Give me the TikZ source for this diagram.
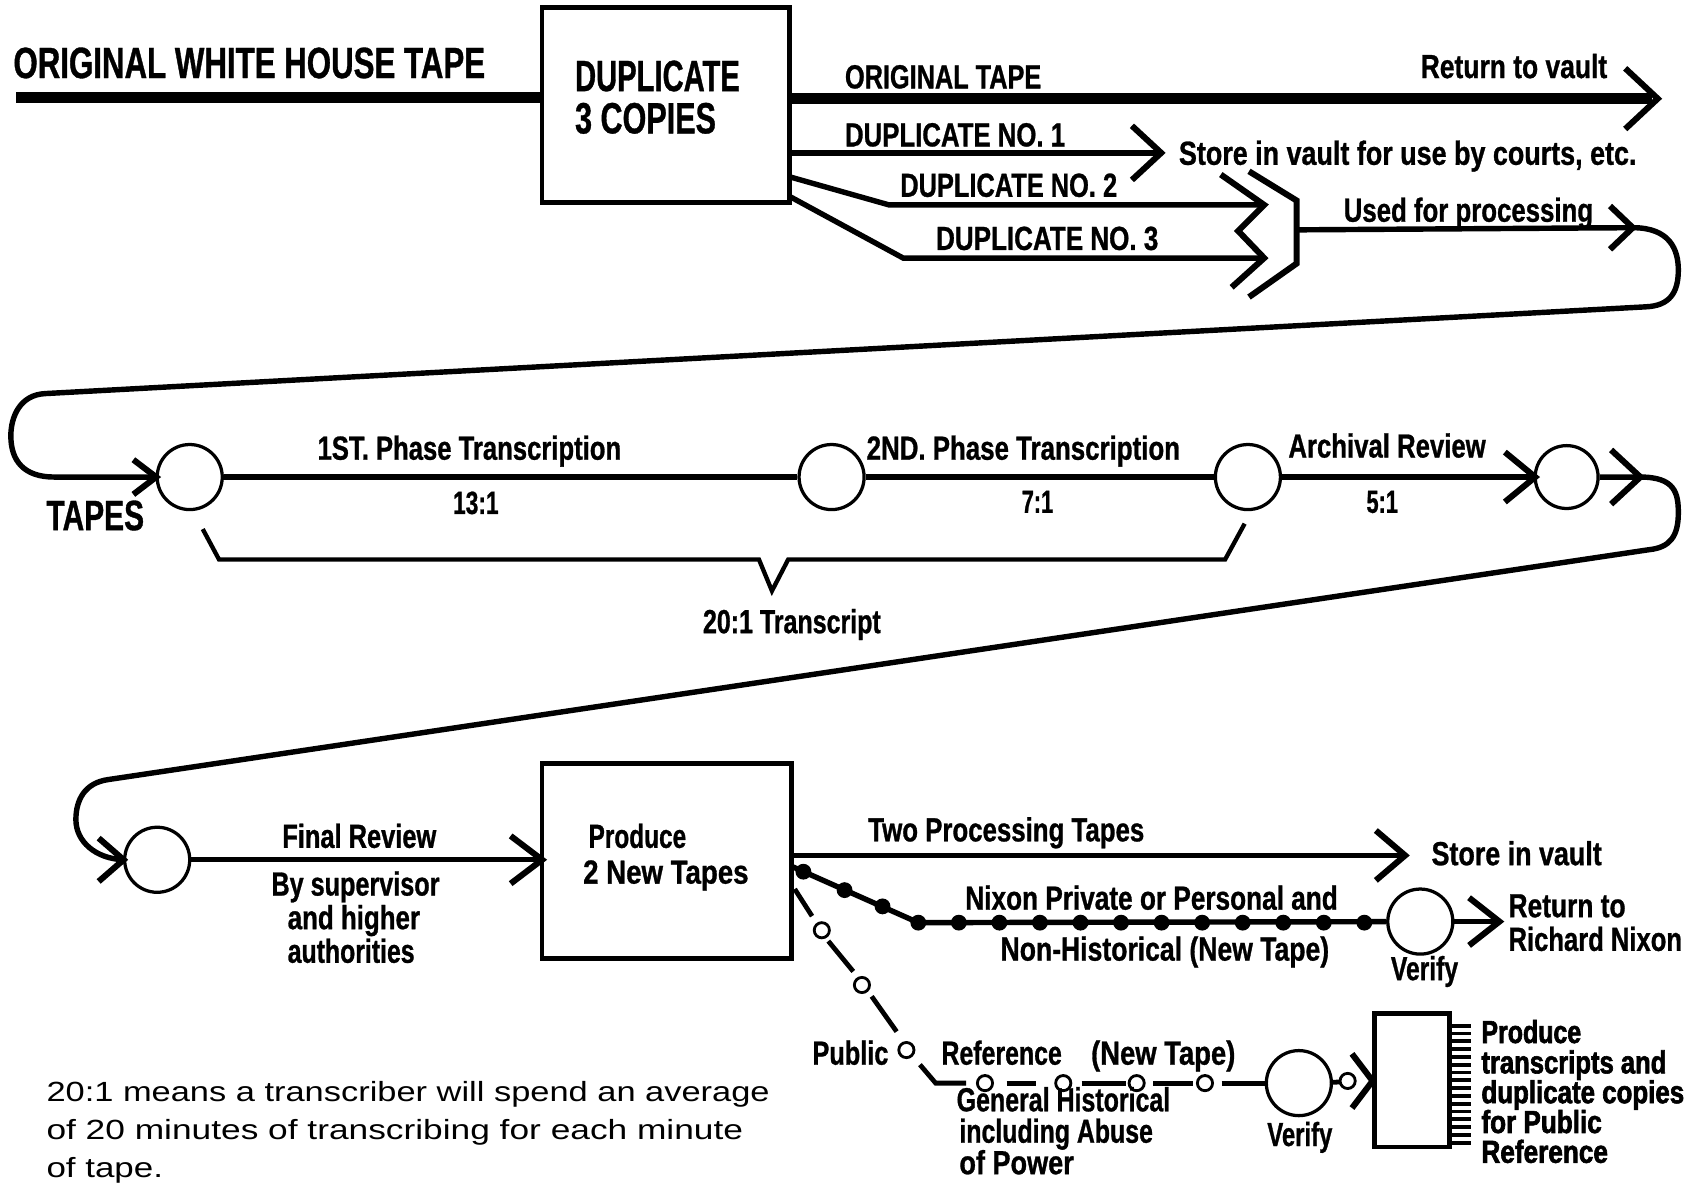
\documentclass[tikz,border=0pt]{standalone}
\usepackage{fontspec}
\usepackage{graphicx}
\setmainfont{Liberation Sans}
\newfontfamily\lab[FakeStretch=0.72,FakeBold=0.8]{Liberation Sans}
\newfontfamily\hvy[FakeStretch=0.72,FakeBold=1.8]{Liberation Sans}
\newfontfamily\nrm{Liberation Sans}
\newdimen\pxu \pxu=0.5pt
\newcommand\tx[2]{\resizebox{#1\pxu}{\height}{#2}}
\tikzset{
  flow/.style={line width=2.5pt, line cap=butt, line join=miter},
  fat/.style={line width=5pt, line cap=butt},
  pline/.style={line width=2.2pt, line cap=butt, line join=miter},
  chevline/.style={line width=2.8pt, line join=miter, miter limit=10, line cap=butt},
  ring/.style={circle, draw, line width=1.5pt, minimum size=30pt, inner sep=0pt},
  oring/.style={line width=1.3pt, fill=white},
  boxs/.style={draw, line width=2.2pt, inner sep=0pt},
  lbl/.style={anchor=base west, inner sep=0pt, font=\lab\bfseries\fontsize{15.4pt}{18pt}\selectfont},
  lblb/.style={lbl, font=\lab\bfseries\fontsize{20.2pt}{24pt}\selectfont},
  lbls/.style={lbl, font=\lab\bfseries\fontsize{14.8pt}{17pt}\selectfont},
  lblh/.style={lbl, font=\hvy\bfseries\fontsize{14.7pt}{17pt}\selectfont},
  note/.style={lbl, font=\nrm\fontsize{12.8pt}{15pt}\selectfont},
  pics/chevr/.style args={#1/#2}{code={\draw[chevline] (-#1,-#2) -- (0,0) -- (-#1,#2);}}
}
\begin{document}
\begin{tikzpicture}[x=0.5pt,y=-0.5pt]
\fill[white] (0,0) rectangle (1568,1093);
\useasboundingbox (0,0) rectangle (1568,1093);

% ---------- top row ----------
\node[boxs, minimum width=114pt, minimum height=90pt] (dup) at (614,97) {};
\node[lblb] (tOWH) at (12,72) {\tx{435}{ORIGINAL WHITE HOUSE TAPE}};
\node[lblb] (tDup) at (530,84) {\tx{152}{DUPLICATE}};
\node[lblb] (tCop) at (530,123) {\tx{130}{3 COPIES}};

\coordinate (a0) at (15,90);
\draw[fat] (a0) -- (a0 -| dup.west);
\coordinate (tO) at (1529,91);
\coordinate (eO) at (1524,91);
\draw[fat] (dup.east |- eO) -- (eO);
\pic at (tO) {chevr={30/28}};
\node[lbl] (tOT) at (779,81.5) {\tx{181}{ORIGINAL TAPE}};
\node[lbl] (tRV) at (1310,72) {\tx{172}{Return to vault}};

\coordinate (t1a) at (1071,141);
\draw[flow] (dup.east |- t1a) -- (t1a);
\pic at (t1a) {chevr={27/25}};
\node[lbl] (tD1) at (779,135) {\tx{203}{DUPLICATE NO. 1}};
\node[lbl] (tSV) at (1087,152) {\tx{422}{Store in vault for use by courts, etc.}};

\coordinate (s2) at (728,163);
\coordinate (s3) at (728,181);
\coordinate (t2a) at (1166,189);
\coordinate (t3a) at (1166,238);
\draw[flow] (s2) -- (820,189) -- (t2a);
\draw[flow] (s3) -- (833,238) -- (t3a);
\draw[chevline] (1126,161) -- (t2a) -- (1142,213) -- (t3a) -- (1136,265);
\coordinate (br) at (1196,212);
\draw[chevline] (1152,158) -- (1196,185) -- (1196,243) -- (1152,274);
\node[lbl] (tD2) at (830,181.5) {\tx{200}{DUPLICATE NO. 2}};
\node[lbl] (tD3) at (863,230.5) {\tx{205}{DUPLICATE NO. 3}};
\node[lbl] (tUP) at (1239,204.5) {\tx{230}{Used for processing}};

% ---------- middle row ----------
\node[ring] (c1) at (175,440) {};
\node[ring] (c2) at (767,440) {};
\node[ring] (c3) at (1151,440) {};
\node[ring, minimum size=29pt] (c4) at (1445,440) {};
\coordinate (tP) at (1506,210);
\coordinate (t1) at (144,440);
\draw[flow] (br) -- (tP) .. controls (1540,210) and (1548,230) .. (1548,249)
  .. controls (1548,270) and (1540,282) .. (1518,283) -- (42,363)
  .. controls (18,364) and (10,385) .. (10,402)
  .. controls (10,425) and (22,440) .. (50,440) -- (t1);
\pic at (tP) {chevr={21/20}};
\pic at (t1) {chevr={21/16}};
\draw[flow] (c1) -- (c2);
\draw[flow] (c2) -- (c3);
\coordinate (t4) at (1416,440);
\draw[flow] (c3) -- (t4);
\pic at (t4) {chevr={28/23}};
\coordinate (t5) at (1513,440);
\coordinate (t6) at (114,793);
\draw[flow] (c4) -- (t5) .. controls (1545,440) and (1548,455) .. (1548,473)
  .. controls (1548,495) and (1540,505) .. (1521,507) -- (100,719)
  .. controls (78,722) and (70,738) .. (70,756)
  .. controls (70,776) and (88,792) .. (t6);
\pic at (t5) {chevr={27/25}};
\node[lblb, font=\lab\bfseries\fontsize{19.6pt}{24pt}\selectfont] (tTP) at (42.5,489) {\tx{90}{TAPES}};
\node[lbl] (tPh1) at (292.5,424) {\tx{280}{1ST. Phase Transcription}};
\node[lbl] (tPh2) at (799,424) {\tx{289}{2ND. Phase Transcription}};
\node[lbl] (tAR) at (1188,422) {\tx{182}{Archival Review}};
\node[lbls] (r13) at (417.5,474) {\tx{42}{13:1}};
\node[lbls] (r7) at (942,473) {\tx{29}{7:1}};
\node[lbls] (r5) at (1260,473) {\tx{29}{5:1}};
\draw[line width=2pt, line join=miter] (187,488) -- (202,516) -- (700,516) -- (712,545)
  -- (727,516) -- (1130,516) -- (1148,483);
\node[lbl] (t201) at (648,584) {\tx{164}{20:1 Transcript}};

% ---------- bottom row ----------
\node[ring] (c5) at (145,793) {};
\node[boxs, minimum width=115pt, minimum height=90pt] (prod) at (615,794) {};
\pic at (t6) {chevr={23/20}};
\coordinate (t7) at (500,793);
\draw[flow] (c5) -- (t7);
\pic at (t7) {chevr={29/22}};
\node[lbl] (tFR) at (260,782) {\tx{142}{Final Review}};
\node[lbl] (tBy) at (250,826) {\tx{155}{By supervisor}};
\node[lbl] (tAH) at (265,857) {\tx{122}{and higher}};
\node[lbl] (tAu) at (265,888) {\tx{117}{authorities}};
\node[lbl] (tPr) at (542.5,782) {\tx{90}{Produce}};
\node[lbl] (tNT) at (537.5,815) {\tx{152.5}{2 New Tapes}};

\coordinate (t8) at (1296,789);
\draw[flow] (prod.east |- t8) -- (t8);
\pic at (t8) {chevr={27/23}};
\node[lbl] (tTw) at (800.5,776) {\tx{254.5}{Two Processing Tapes}};
\node[lbl] (tSt) at (1320,798) {\tx{157}{Store in vault}};

% Nixon private line
\node[ring] (c6) at (1310,850) {};
\coordinate (n0) at (730,799);
\coordinate (n1) at (847,851);
\draw[flow] (n0) -- (n1) -- (c6);
\foreach \p in {(741,804),(779,821),(814,836),(847,851)}
  \fill \p circle (7.3);
\foreach \i in {1,...,11}
  \fill ({847+37.4*\i},851) circle (7.3);
\coordinate (t9) at (1383,850);
\draw[flow] (c6) -- (t9);
\pic at (t9) {chevr={28/22}};
\node[lbl] (tNP) at (890,839) {\tx{343.5}{Nixon Private or Personal and}};
\node[lbl] (tNH) at (922.5,886) {\tx{303}{Non-Historical (New Tape)}};
\node[lbl] (tV1) at (1282.5,904) {\tx{62}{Verify}};
\node[lbl] (tRt) at (1391,846) {\tx{108}{Return to}};
\node[lbl] (tRN) at (1391,877) {\tx{160}{Richard Nixon}};

% Public reference line
\node[ring] (c7) at (1198,999) {};
\draw[pline] (733,820) -- (749,845);
\draw[pline] (764,868) -- (787,896);
\draw[pline] (804,919) -- (827,951.5);
\draw[pline] (848.5,982) -- (863,999) -- (891,999);
\draw[pline] (928.5,999) -- (956,999);
\draw[pline] (997.7,999) -- (1039,999);
\draw[pline] (1063.7,999) -- (1100.6,999);
\coordinate (q0) at (1126.8,999);
\draw[pline] (q0) -- (c7);
\coordinate (q1) at (1236,998);
\draw[pline] (c7) -- (q1);
\foreach \p in {(758,858),(795,908.5),(836,968.5),(908.5,999),(980.7,999),(1048.4,999),(1111.4,999),(1243,997)}
  \draw[oring] \p circle (7);
\coordinate (t10) at (1266,997);
\pic at (t10) {chevr={19/25}};
\node[boxs, minimum width=34.5pt, minimum height=61.5pt] (fbox) at (1302.5,996.5) {};
\foreach \i in {0,...,15}
  \draw[line width=1.8pt] (fbox.east |- 0,{946+7.2*\i}) -- (1357,{946+7.2*\i});
\node[lbl] (tPu) at (749,982) {\tx{70}{Public}};
\node[lbl] (tRe) at (868,982) {\tx{111}{Reference}};
\node[lbl] (tNw) at (1006,982) {\tx{133}{(New Tape)}};
\node[lbl] (tGH) at (882,1025) {\tx{197}{General Historical}};
\node[lbl] (tIA) at (884.5,1054) {\tx{178.5}{including Abuse}};
\node[lbl] (tOP) at (884.5,1083) {\tx{105.5}{of Power}};
\node[lbl] (tV2) at (1168.5,1057) {\tx{60}{Verify}};
\node[lblh] (tF1) at (1366,962) {\tx{92}{Produce}};
\node[lblh] (tF2) at (1366,990) {\tx{170.6}{transcripts and}};
\node[lblh] (tF3) at (1366,1017.5) {\tx{187}{duplicate copies}};
\node[lblh] (tF4) at (1366,1045) {\tx{111}{for Public}};
\node[lblh] (tF5) at (1366,1072.5) {\tx{116.7}{Reference}};

% footnote
\node[note] (fn1) at (42.5,1016) {\tx{667}{20:1 means a transcriber will spend an average}};
\node[note] (fn2) at (42.5,1051) {\tx{642.5}{of 20 minutes of transcribing for each minute}};
\node[note] (fn3) at (42.5,1086) {\tx{107.5}{of tape.}};
\end{tikzpicture}
\end{document}
